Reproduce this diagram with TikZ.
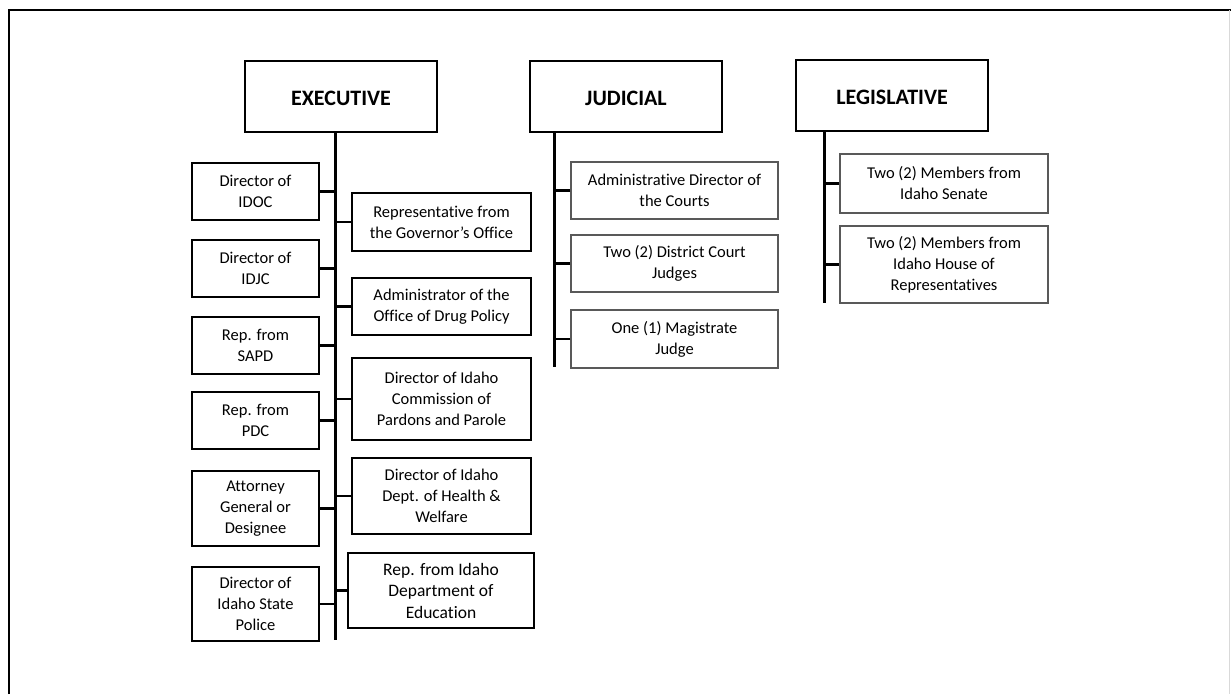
\documentclass[tikz,border=0pt]{standalone}
\usepackage{fontspec}
\setmainfont{Carlito}[Ligatures={TeX,NoCommon}]

\begin{document}
\begin{tikzpicture}[x=1pt, y=-1pt,
    branch/.style={draw, line width=2pt, minimum width=192pt, minimum height=71pt,
        text height=19pt, text depth=0pt,
        font=\fontsize{22}{26}\selectfont\bfseries},
    member/.style={draw, line width=1.6pt, align=center, inner sep=2pt,
        font=\fontsize{16.5}{21}\selectfont},
    softmember/.style={member, draw=black!65, line width=1.3pt},
    trunk/.style={line width=3pt},
    stub/.style={line width=2.6pt}]
    \useasboundingbox (0,0) rectangle (1231,694);

    % Frame
    \draw[line width=2.8pt] (9,694) -- (9,10) -- (1231,10);
    \draw[black!15, line width=1pt] (1229,10) -- (1229,694);

    % Branches
    \node[branch] (exec) at (341,96) {EXECUTIVE};
    \node[branch] (jud) at (626,96) {JUDICIAL};
    \node[branch] (leg) at (892,95) {LEGISLATIVE};

    % Trunks
    \coordinate (exectop) at (335,132);
    \coordinate (execend) at (335,640);
    \coordinate (judtop) at (554,132);
    \coordinate (judend) at (554,367);
    \coordinate (legtop) at (824,130);
    \coordinate (legend) at (824,303);
    \draw[trunk] (exectop) -- (execend);
    \draw[trunk] (judtop) -- (judend);
    \draw[trunk] (legtop) -- (legend);

    % Executive, left column
    \node[member, minimum width=127pt, minimum height=57pt] (idoc) at (255.5,191.5) {Director of\\IDOC};
    \node[member, minimum width=127pt, minimum height=57pt] (idjc) at (255.5,268.5) {Director of\\IDJC};
    \node[member, minimum width=127pt, minimum height=57pt] (sapd) at (255.5,345.5) {Rep. from\\SAPD};
    \node[member, minimum width=127pt, minimum height=57pt] (pdc) at (255.5,420.5) {Rep. from\\PDC};
    \node[member, minimum width=127pt, minimum height=75pt] (ag) at (255.5,508.5) {Attorney\\General or\\Designee};
    \node[member, minimum width=127pt, minimum height=74pt] (isp) at (255.5,604) {Director of\\Idaho State\\Police};

    % Executive, right column
    \node[member, minimum width=179pt, minimum height=58pt] (gov) at (441.5,222) {Representative from\\the Governor's Office};
    \node[member, minimum width=179pt, minimum height=57pt] (odp) at (441.5,306.5) {Administrator of the\\Office of Drug Policy};
    \node[member, minimum width=179pt, minimum height=82pt] (icpp) at (441.5,399) {Director of Idaho\\Commission of\\Pardons and Parole};
    \node[member, minimum width=179pt, minimum height=76pt] (hw) at (441.5,496) {Director of Idaho\\Dept. of Health \&\\Welfare};
    \node[member, line width=2.4pt, minimum width=186pt, minimum height=75pt,
        font=\fontsize{17.5}{21.5}\selectfont] (edu) at (441,590.5) {Rep. from Idaho\\Department of\\Education};

    \foreach \b in {idoc, idjc, sapd, pdc, ag, isp}
        \draw[stub] (\b.east) -- (\b.east -| exectop);
    \foreach \b in {gov, odp, icpp, hw, edu}
        \draw[stub] (\b.west) -- (\b.west -| exectop);

    % Judicial
    \node[softmember, minimum width=207pt, minimum height=57pt] (adc) at (674.5,190.5) {Administrative Director of\\the Courts};
    \node[softmember, minimum width=207pt, minimum height=57pt] (dcj) at (674.5,263.5) {Two (2) District Court\\Judges};
    \node[softmember, minimum width=207pt, minimum height=58pt] (mag) at (674.5,339) {One (1) Magistrate\\Judge};
    \foreach \b in {adc, dcj, mag}
        \draw[stub] (\b.west) -- (\b.west -| judtop);

    % Legislative
    \node[softmember, minimum width=208pt, minimum height=59pt] (sen) at (944,183.5) {Two (2) Members from\\Idaho Senate};
    \node[softmember, minimum width=208pt, minimum height=77pt] (house) at (944,264.5) {Two (2) Members from\\Idaho House of\\Representatives};
    \foreach \b in {sen, house}
        \draw[stub] (\b.west) -- (\b.west -| legtop);
\end{tikzpicture}
\end{document}
